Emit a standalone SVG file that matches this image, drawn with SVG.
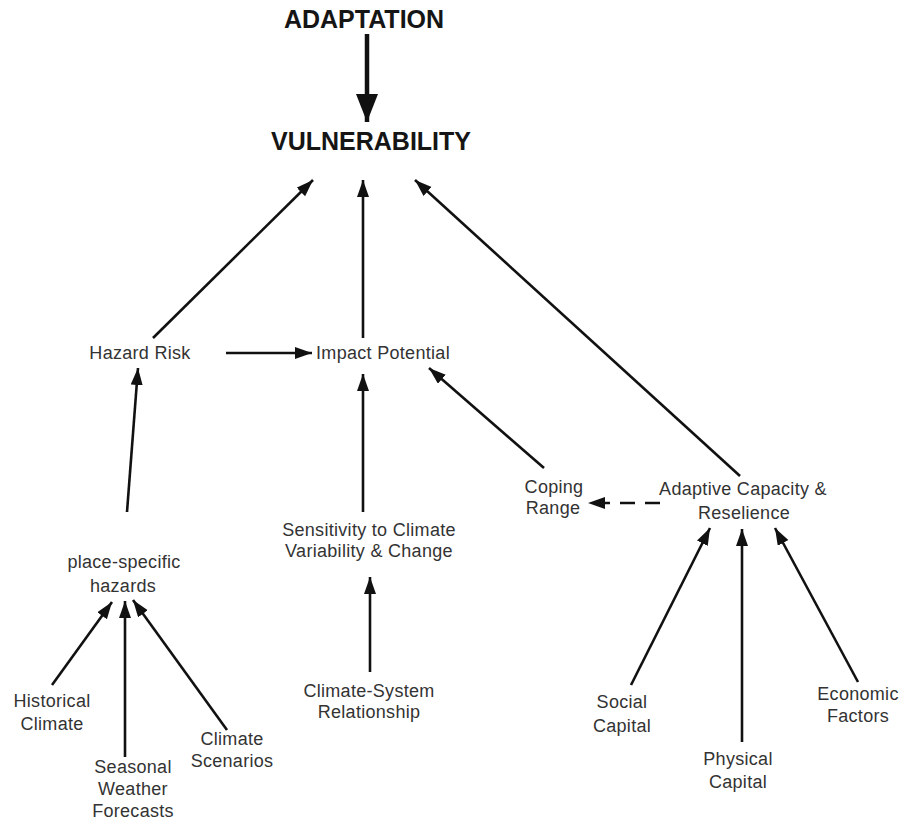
<svg xmlns="http://www.w3.org/2000/svg" width="902" height="822" viewBox="0 0 902 822">
  <defs>
    <marker id="arrow" markerUnits="userSpaceOnUse" markerWidth="18" markerHeight="14" refX="17" refY="6" orient="auto">
      <path d="M0,0 L17,6 L0,12 Z" fill="#111"/>
    </marker>
    <marker id="arrow-big" markerUnits="userSpaceOnUse" markerWidth="30" markerHeight="24" refX="28" refY="11" orient="auto">
      <path d="M0,0 L28,11 L0,22 Z" fill="#111"/>
    </marker>
    <style>
      .title { font-family: "Liberation Sans", Arial, sans-serif; font-weight: bold; font-size: 25px; fill: #151515; text-anchor: middle; }
      .label { font-family: "Liberation Sans", Arial, sans-serif; font-size: 18px; fill: #333; text-anchor: middle; letter-spacing: 0.3px; }
      .edge { stroke: #111; stroke-width: 2.6; fill: none; marker-end: url(#arrow); }
      .edge-big { stroke: #111; stroke-width: 4.5; fill: none; marker-end: url(#arrow-big); }
      .dashed { stroke-dasharray: 15 10; }
    </style>
  </defs>
  <rect width="902" height="822" fill="#fff"/>

  <g id="connectors">
    <line class="edge-big" x1="367" y1="34" x2="367" y2="122"/>
    <line class="edge" x1="153" y1="338" x2="313" y2="180"/>
    <line class="edge" x1="363" y1="338" x2="363" y2="180"/>
    <line class="edge" x1="740" y1="476" x2="415" y2="180"/>
    <line class="edge" x1="226" y1="353" x2="312" y2="353"/>
    <line class="edge" x1="127" y1="512" x2="138" y2="368"/>
    <line class="edge" x1="363" y1="512" x2="363" y2="374"/>
    <line class="edge" x1="544" y1="468" x2="429" y2="368"/>
    <line class="edge dashed" x1="660" y1="503" x2="588" y2="503"/>
    <line class="edge" x1="52" y1="685" x2="112" y2="602"/>
    <line class="edge" x1="125" y1="757" x2="125" y2="601"/>
    <line class="edge" x1="227" y1="730" x2="133" y2="600"/>
    <line class="edge" x1="370" y1="672" x2="370" y2="577"/>
    <line class="edge" x1="631" y1="685" x2="710" y2="528"/>
    <line class="edge" x1="742" y1="742" x2="742" y2="529"/>
    <line class="edge" x1="858" y1="682" x2="775" y2="528"/>
  </g>

  <g id="adaptation"><text class="title" x="364" y="28">ADAPTATION</text></g>
  <g id="vulnerability"><text class="title" x="371" y="150">VULNERABILITY</text></g>
  <g id="hazard-risk"><text class="label" x="140" y="359">Hazard Risk</text></g>
  <g id="impact-potential"><text class="label" x="383" y="359">Impact Potential</text></g>
  <g id="coping-range">
    <text class="label" x="554" y="493">Coping</text>
    <text class="label" x="553" y="514">Range</text>
  </g>
  <g id="adaptive-capacity">
    <text class="label" x="743" y="495">Adaptive Capacity &amp;</text>
    <text class="label" x="744" y="519">Reselience</text>
  </g>
  <g id="sensitivity">
    <text class="label" x="369" y="536">Sensitivity to Climate</text>
    <text class="label" x="369" y="557">Variability &amp; Change</text>
  </g>
  <g id="place-specific-hazards">
    <text class="label" x="124" y="568">place-specific</text>
    <text class="label" x="123" y="592">hazards</text>
  </g>
  <g id="historical-climate">
    <text class="label" x="52" y="707">Historical</text>
    <text class="label" x="52" y="730">Climate</text>
  </g>
  <g id="seasonal-forecasts">
    <text class="label" x="133" y="773">Seasonal</text>
    <text class="label" x="133" y="795">Weather</text>
    <text class="label" x="133" y="817">Forecasts</text>
  </g>
  <g id="climate-scenarios">
    <text class="label" x="232" y="745">Climate</text>
    <text class="label" x="232" y="767">Scenarios</text>
  </g>
  <g id="climate-system">
    <text class="label" x="369" y="697">Climate-System</text>
    <text class="label" x="369" y="718">Relationship</text>
  </g>
  <g id="social-capital">
    <text class="label" x="622" y="708">Social</text>
    <text class="label" x="622" y="732">Capital</text>
  </g>
  <g id="physical-capital">
    <text class="label" x="738" y="765">Physical</text>
    <text class="label" x="738" y="788">Capital</text>
  </g>
  <g id="economic-factors">
    <text class="label" x="858" y="700">Economic</text>
    <text class="label" x="858" y="722">Factors</text>
  </g>
</svg>
